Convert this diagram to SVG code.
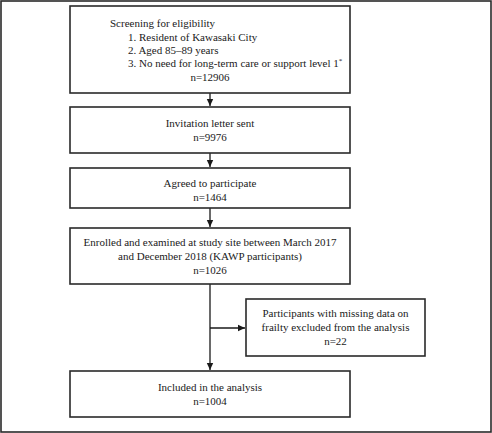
<svg xmlns="http://www.w3.org/2000/svg" width="492" height="433" viewBox="0 0 492 433">
<style>
.box{fill:#fff;stroke:#2a2a2a;stroke-width:1.6}
.t{font-family:"Liberation Serif","Times New Roman",serif;font-size:11px;fill:#1a1a1a}
.c{text-anchor:middle}
.ln{stroke:#1a1a1a;stroke-width:1.3;fill:none}
</style>
<defs>
<marker id="ah" markerWidth="8" markerHeight="8" refX="7" refY="4" orient="auto" markerUnits="userSpaceOnUse">
<path d="M0,0.8 L7,4 L0,7.2 Z" fill="#1a1a1a"/>
</marker>
</defs>
<rect x="1" y="1" width="490" height="431" fill="#fff" stroke="#2a2a2a" stroke-width="1.6"/>
<g id="connectors">
<line class="ln" x1="210" y1="93" x2="210" y2="106" marker-end="url(#ah)"/>
<line class="ln" x1="210" y1="153" x2="210" y2="167" marker-end="url(#ah)"/>
<line class="ln" x1="210" y1="208" x2="210" y2="227" marker-end="url(#ah)"/>
<line class="ln" x1="210" y1="284" x2="210" y2="370" marker-end="url(#ah)"/>
<line class="ln" x1="210" y1="328" x2="245" y2="328" marker-end="url(#ah)"/>
</g>
<g id="screening">
<rect class="box" x="70" y="6" width="280" height="87"/>
<text class="t" x="110" y="27">Screening for eligibility</text>
<text class="t" x="128" y="41">1. Resident of Kawasaki City</text>
<text class="t" x="128" y="54">2. Aged 85–89 years</text>
<text class="t" x="128" y="67">3. No need for long-term care or support level 1<tspan dy="-4" font-size="7">*</tspan></text>
<text class="t c" x="210" y="81">n=12906</text>
</g>
<g id="invitation">
<rect class="box" x="70" y="107" width="280" height="46"/>
<text class="t c" x="210" y="127">Invitation letter sent</text>
<text class="t c" x="210" y="141">n=9976</text>
</g>
<g id="agreed">
<rect class="box" x="70" y="168" width="280" height="40"/>
<text class="t c" x="210" y="187">Agreed to participate</text>
<text class="t c" x="210" y="201">n=1464</text>
</g>
<g id="enrolled">
<rect class="box" x="70" y="228" width="280" height="56"/>
<text class="t c" x="210" y="246">Enrolled and examined at study site between March 2017</text>
<text class="t c" x="210" y="260">and December 2018 (KAWP participants)</text>
<text class="t c" x="210" y="274">n=1026</text>
</g>
<g id="excluded">
<rect class="box" x="246" y="299" width="179" height="57"/>
<text class="t c" x="335.5" y="317">Participants with missing data on</text>
<text class="t c" x="335.5" y="331">frailty excluded from the analysis</text>
<text class="t c" x="335.5" y="345">n=22</text>
</g>
<g id="included">
<rect class="box" x="70" y="371" width="280" height="46"/>
<text class="t c" x="210" y="391">Included in the analysis</text>
<text class="t c" x="210" y="405">n=1004</text>
</g>
</svg>
